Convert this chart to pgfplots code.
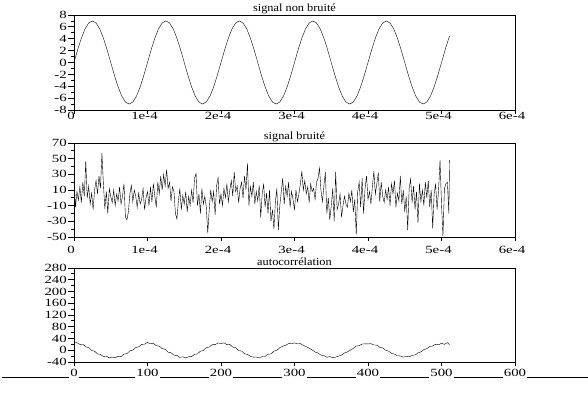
\documentclass[border=0pt]{standalone}
\usepackage{fontspec}
\setmainfont{Liberation Serif}
\newfontfamily\tickfont[FakeStretch=1.35]{Liberation Serif}
\newfontfamily\titlefont[FakeStretch=1.12]{Liberation Serif}
\usepackage{pgfplots}
\pgfplotsset{compat=1.18}
\pgfplotsset{
  myax/.style={
    scale only axis, width=441pt, anchor=north west,
    xmin=0, xmax=600, xtick={0,100,...,600},
    tick align=outside, tick pos=left,
    major tick length=6pt, minor tick length=3pt,
    minor y tick num=1, minor x tick num=0,
    axis line style={line width=0.8pt},
    every tick/.style={black, line width=0.8pt},
    xtick style={dash pattern=on 0pt off 2.5pt on 3.5pt off 20pt},
    tick label style={font=\tickfont\fontsize{11}{13}\selectfont},
    /pgf/number format/assume math mode=true,
    yticklabel style={inner sep=0pt, xshift=-1pt},
    title style={at={(0.5,1)}, anchor=base, yshift=-3pt, inner sep=0pt, font=\titlefont\fontsize{11}{13}\selectfont},
    cycle list={{black, line width=0.8pt}},
  }
}
\begin{document}
\begin{tikzpicture}[x=1pt,y=1pt]
\path[use as bounding box] (0,0) rectangle (588,-393);
\draw[line width=0.8pt] (2,-377) -- (588,-377);
% ---------- top: clean signal
\begin{axis}[myax, at={(74pt,-15pt)}, height=95pt,
  ymin=-8, ymax=8, ytick={-8,-6,...,8},
  xticklabels={0,1e-4,2e-4,3e-4,4e-4,5e-4,6e-4},
  xticklabel style={inner sep=0pt, yshift=4pt, xshift=-3pt},
  title={signal non bruité}]
\addplot coordinates {
(0,0)(5,2.16)(10,4.11)(15,5.66)(20,6.66)(25,7)(30,6.66)(35,5.66)(40,4.11)(45,2.16)(50,0)(55,-2.16)(60,-4.11)(65,-5.66)(70,-6.66)(75,-7)(80,-6.66)(85,-5.66)(90,-4.11)(95,-2.16)
(100,0)(105,2.16)(110,4.11)(115,5.66)(120,6.66)(125,7)(130,6.66)(135,5.66)(140,4.11)(145,2.16)(150,0)(155,-2.16)(160,-4.11)(165,-5.66)(170,-6.66)(175,-7)(180,-6.66)(185,-5.66)(190,-4.11)(195,-2.16)
(200,0)(205,2.16)(210,4.11)(215,5.66)(220,6.66)(225,7)(230,6.66)(235,5.66)(240,4.11)(245,2.16)(250,0)(255,-2.16)(260,-4.11)(265,-5.66)(270,-6.66)(275,-7)(280,-6.66)(285,-5.66)(290,-4.11)(295,-2.16)
(300,0)(305,2.16)(310,4.11)(315,5.66)(320,6.66)(325,7)(330,6.66)(335,5.66)(340,4.11)(345,2.16)(350,0)(355,-2.16)(360,-4.11)(365,-5.66)(370,-6.66)(375,-7)(380,-6.66)(385,-5.66)(390,-4.11)(395,-2.16)
(400,0)(405,2.16)(410,4.11)(415,5.66)(420,6.66)(425,7)(430,6.66)(435,5.66)(440,4.11)(445,2.16)(450,0)(455,-2.16)(460,-4.11)(465,-5.66)(470,-6.66)(475,-7)(480,-6.66)(485,-5.66)(490,-4.11)(495,-2.16)
(500,0)(505,2.16)(510,4.11)(511,4.46)
};
\end{axis}
% ---------- middle: noisy signal
\begin{axis}[myax, at={(74pt,-143pt)}, height=94pt,
  ymin=-50, ymax=70, ytick={-50,-30,...,70},
  xticklabels={0,1e-4,2e-4,3e-4,4e-4,5e-4,6e-4},
  xticklabel style={inner sep=0pt, yshift=-3pt, xshift=-3pt},
  title={signal bruité}]
\addplot coordinates {
(0,25)(2,-12)(4,8)(6,-3)(8,14)(10,-6)(12,20)(14,2)(16,47)(18,0)
(20,15)(22,-8)(24,6)(26,-15)(28,10)(30,22)(32,5)(34,28)(36,12)(38,57)
(40,18)(42,-14)(44,8)(46,-20)(48,12)(50,2)(52,-6)(54,10)(56,-10)(58,5)
(60,-4)(62,14)(64,-8)(66,2)(68,18)(70,-25)(72,-28)(74,-18)(76,5)(78,16)
(80,-5)(82,10)(84,2)(86,-12)(88,6)(90,-8)(92,-2)(94,12)(96,-15)(98,0)
(100,8)(102,-10)(104,14)(106,-5)(108,18)(110,2)(112,-12)(114,20)(116,5)(118,28)
(120,10)(122,30)(124,15)(126,36)(128,12)(130,20)(132,-4)(134,14)(136,8)(138,-20)
(140,-27)(142,-5)(144,12)(146,-15)(148,3)(150,-8)(152,8)(154,-18)(156,2)(158,-10)
(160,10)(162,-6)(164,25)(166,31)(168,-10)(170,5)(172,-20)(174,12)(176,-8)(178,2)
(180,-12)(182,-45)(184,-15)(186,10)(188,-5)(190,8)(192,-22)(194,15)(196,26)(198,-8)
(200,5)(202,-10)(204,12)(206,0)(208,18)(210,-5)(212,10)(214,22)(216,2)(218,33)
(220,8)(222,15)(224,-6)(226,12)(228,20)(230,0)(232,28)(234,10)(236,44)(238,-10)
(240,14)(242,2)(244,20)(246,-8)(248,8)(250,-4)(252,16)(254,-25)(256,4)(258,18)
(260,-12)(262,6)(264,-20)(266,10)(268,-30)(270,-15)(272,-40)(274,-5)(276,12)(278,-41)
(280,-10)(282,8)(284,25)(286,-8)(288,15)(290,2)(292,20)(294,-12)(296,8)(298,-2)
(300,-15)(302,10)(304,-5)(306,5)(308,18)(310,34)(312,10)(314,22)(316,5)(318,14)
(320,-6)(322,18)(324,8)(326,12)(328,-2)(330,20)(332,25)(334,38)(336,10)(338,-5)
(340,15)(342,33)(344,-20)(346,0)(348,-28)(350,-10)(352,12)(354,-30)(356,33)(358,-15)
(360,-8)(362,5)(364,-25)(366,-10)(368,2)(370,-8)(372,-12)(374,6)(376,-5)(378,10)
(380,-18)(382,-2)(384,-47)(386,8)(388,20)(390,-12)(392,25)(394,-20)(396,12)(398,28)
(400,-2)(402,8)(404,-8)(406,15)(408,34)(410,5)(412,18)(414,32)(416,-5)(418,20)
(420,2)(422,-6)(424,10)(426,-2)(428,14)(430,-10)(432,18)(434,5)(436,22)(438,-12)
(440,6)(442,-4)(444,28)(446,-8)(448,10)(450,-18)(452,2)(454,-41)(456,12)(458,24)
(460,-6)(462,15)(464,-15)(466,8)(468,-32)(470,18)(472,-5)(474,10)(476,-10)(478,20)
(480,0)(482,22)(484,-12)(486,10)(488,-39)(490,5)(492,18)(494,-15)(496,10)(498,48)
(500,-8)(502,-49)(504,12)(506,18)(508,20)(510,-20)(511,48)
};
\end{axis}
% ---------- bottom: autocorrelation
\begin{axis}[myax, at={(74pt,-268pt)}, height=94pt,
  ymin=-40, ymax=280, ytick={-40,0,...,280},
  xticklabel style={inner xsep=1pt, inner ysep=1pt, fill=white, yshift=-0.4pt},
  title={autocorrélation}]
\addplot coordinates {
(0,146)(1,28)(4,25.5)(8,20.0)(12,20.5)(16,11.5)(20,9.0)(24,-1.0)(28,-3.0)(32,-12.5)(36,-14.0)(40,-21.5)(44,-20.0)(48,-26.0)(52,-23.0)(56,-25.5)(60,-20.5)(64,-22.0)(68,-13.0)(72,-11.5)(76,-2.0)(80,0.5)(84,9.5)(88,11.5)(92,20.0)(96,20.5)(100,26.5)
(104,22.0)(108,23.5)(112,15.5)(116,14.0)(120,5.5)(124,3.5)(128,-6.5)(132,-8.5)(136,-17.0)(140,-17.5)(144,-24.5)(148,-22.0)(152,-26.5)(156,-22.0)(160,-21.5)(164,-14.0)(168,-12.5)(172,-3.0)(176,-1.0)(180,9.0)(184,11.0)(188,19.5)(192,19.0)(196,25.0)(200,22.5)
(204,25.5)(208,19.0)(212,20.0)(216,10.5)(220,9.0)(224,-1.5)(228,-2.5)(232,-12.0)(236,-14.0)(240,-20.5)(244,-23.5)(248,-23.0)(252,-26.5)(256,-21.5)(260,-21.0)(264,-13.5)(268,-12.5)(272,-3.0)(276,0.0)(280,8.5)(284,14.0)(288,16.5)(292,23.0)(296,22.0)(300,25.0)
(304,22.0)(308,22.5)(312,16.5)(316,12.0)(320,7.0)(324,1.0)(328,-6.0)(332,-9.5)(336,-16.5)(340,-18.0)(344,-24.0)(348,-21.5)(352,-25.5)(356,-23.0)(360,-20.0)(364,-16.5)(368,-9.5)(372,-5.5)(376,0.5)(380,6.0)(384,14.5)(388,15.5)(392,21.0)(396,22.0)(400,21.5)
(404,22.5)(408,18.0)(412,17.5)(416,10.0)(420,8.0)(424,0.0)(428,-3.0)(432,-10.5)(436,-13.0)(440,-19.0)(444,-19.5)(448,-23.5)(452,-21.0)(456,-22.5)(460,-17.5)(464,-16.0)(468,-9.0)(472,-5.5)(476,2.0)(480,5.5)(484,13.0)(488,14.5)(492,20.5)(496,18.5)(500,24.0)(504,20.0)(508,26.0)(511,19.0)
};
\end{axis}
\end{tikzpicture}
\end{document}
